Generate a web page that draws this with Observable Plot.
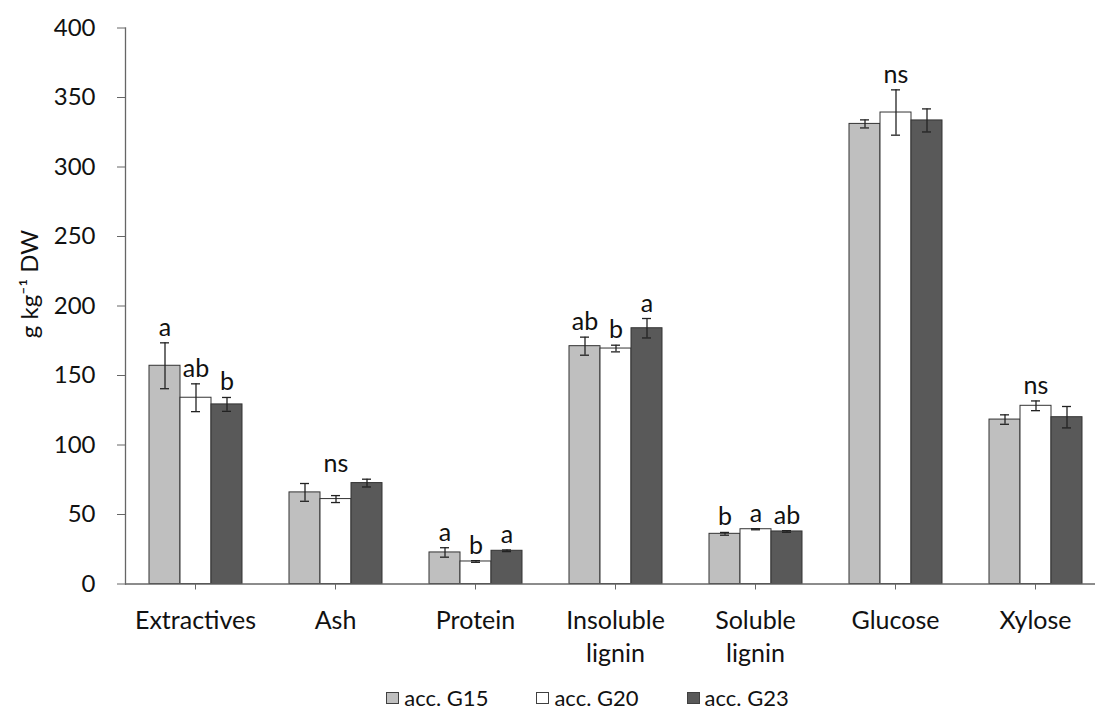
<!DOCTYPE html>
<html><head><meta charset="utf-8">
<script src="https://cdn.jsdelivr.net/npm/d3@7"></script>
<script src="https://cdn.jsdelivr.net/npm/@observablehq/plot@0.6"></script>
<style>
body{margin:0;background:#fff;font-family:Lato,"Noto Sans",sans-serif;overflow:hidden;}
#chart svg{overflow:hidden;}
#legend{display:flex;justify-content:center;align-items:center;padding-left:80px;margin-top:12px;height:22px;line-height:22px;font-size:22px;color:#111;}
.item{display:flex;align-items:center;margin:0 24px;}
.sw{width:13px;height:12px;border:1px solid #404040;margin-right:5px;box-sizing:border-box;}
</style></head><body><div id="chart"></div><div id="legend"></div>
<script>
const categories = ["Extractives","Ash","Protein","Insoluble\nlignin","Soluble\nlignin","Glucose","Xylose"];
const accessions = ["acc. G15","acc. G20","acc. G23"];
const colors = ["#bfbfbf","#ffffff","#595959"];
const g15 = [157, 65.9, 22.7, 171.1, 36.1, 331, 118.3];
const g15err = [16.5, 6.4, 3.4, 6.5, 1.0, 2.9, 3.4];
const g20 = [134, 61.1, 16.2, 169.4, 39.4, 339.2, 128.2];
const g20err = [10, 2.5, 0.6, 2.4, 0.4, 16.3, 3.5];
const g23 = [129.2, 72.6, 23.9, 184, 37.8, 333.5, 120];
const g23err = [5, 2.8, 0.6, 7, 0.6, 8.3, 7.7];
const letters15 = ["a","","a","ab","b","",""];
const letters20 = ["ab","ns","b","b","a","ns","ns"];
const letters23 = ["b","","a","a","ab","",""];
const yTicks = [0,50,100,150,200,250,300,350,400];
const yLabel = "g kg⁻¹ DW";

const vals = [g15, g20, g23], errs = [g15err, g20err, g23err], lets = [letters15, letters20, letters23];
const rows = [];
categories.forEach((c, i) => {
  const groupTop = Math.max(...vals.map((v, k) => v[i] + errs[k][i]));
  accessions.forEach((a, k) => {
    const letter = lets[k][i];
    rows.push({cat: c, acc: a, value: vals[k][i], err: errs[k][i], letter,
      labelY: letter === "ns" ? groupTop : vals[k][i] + errs[k][i]});
  });
});

const plot = Plot.plot({
  width: 1095,
  height: 675,
  marginLeft: 122,
  marginRight: -13,
  marginTop: 27.5,
  marginBottom: 91.5,
  style: {fontFamily: "Lato, 'Noto Sans', sans-serif", fontSize: "24px", color: "#111", background: "#fff"},
  fx: {domain: categories, padding: 0, label: null},
  x: {domain: accessions, paddingInner: 0, paddingOuter: 0.7388, axis: null},
  y: {domain: [0, 400], label: null},
  color: {domain: accessions, range: colors},
  marks: [
    Plot.barY(rows, {fx: "cat", x: "acc", y: "value", fill: "acc", stroke: "#333", strokeWidth: 1}),
    Plot.ruleX(rows, {fx: "cat", x: "acc", y1: d => d.value - d.err, y2: d => d.value + d.err, stroke: "#222", strokeWidth: 1.3}),
    Plot.tickY(rows, {fx: "cat", x: "acc", y: d => d.value - d.err, stroke: "#222", strokeWidth: 1.3, insetLeft: 11, insetRight: 11}),
    Plot.tickY(rows, {fx: "cat", x: "acc", y: d => d.value + d.err, stroke: "#222", strokeWidth: 1.3, insetLeft: 11, insetRight: 11}),
    Plot.text(rows.filter(d => d.letter), {fx: "cat", x: "acc", y: "labelY", text: "letter", dy: -7, lineAnchor: "bottom", fontSize: 25, fill: "#111"}),
    Plot.ruleY([0], {stroke: "#666", strokeWidth: 1.3}),
    Plot.frame({anchor: "left", facet: "super", stroke: "#666", strokeWidth: 1.3}),
    Plot.text([yLabel], {facet: "super", frameAnchor: "left", textAnchor: "middle", rotate: -90, dx: -95, dy: -22, fontSize: 24, fill: "#111"}),
    Plot.axisY({ticks: yTicks, tickSize: 8, tickPadding: 22, stroke: "#666", label: null, tickFormat: d => String(d)}),
    Plot.axisFx({anchor: "bottom", tickSize: 6, tickPadding: 16, lineHeight: 1.3, fontSize: 25, stroke: "#666", label: null})
  ]
});
document.getElementById("chart").appendChild(plot);

const legend = document.getElementById("legend");
accessions.forEach((a, k) => {
  const it = document.createElement("div"); it.className = "item";
  const sw = document.createElement("div"); sw.className = "sw"; sw.style.background = colors[k];
  const t = document.createElement("span"); t.textContent = a;
  it.appendChild(sw); it.appendChild(t); legend.appendChild(it);
});
</script></body></html>
